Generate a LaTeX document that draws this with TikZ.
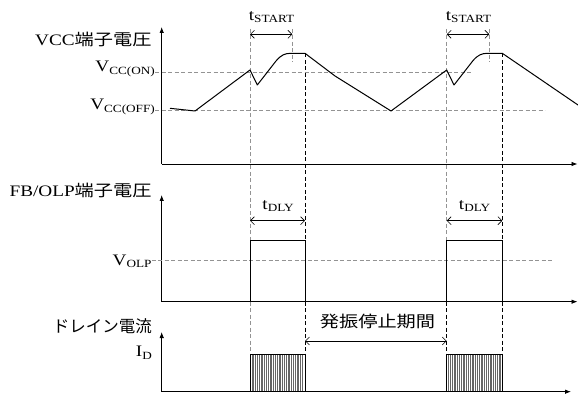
\documentclass[tikz,border=0pt]{standalone}
\usepackage{fontspec}
\setmainfont{Liberation Serif}[FakeStretch=1.2]
\newfontfamily\jpfont{Noto Sans CJK JP}[FakeStretch=1.2]
\newfontfamily\jpnarrow{Noto Sans CJK JP}
\usetikzlibrary{arrows.meta}
\newcommand\lsub[1]{\raisebox{-2.5pt}{\fontsize{11}{11}\selectfont #1}}
\newcommand\tsub[1]{\raisebox{-1.5pt}{\fontsize{11}{11}\selectfont #1}}
\begin{document}
\begin{tikzpicture}[x=1pt,y=-1pt,
  lbl/.style={font=\fontsize{16}{18}\selectfont, inner sep=0pt},
  axisline/.style={line width=0.8pt, -{Latex[length=6pt,width=4.5pt]}},
  wave/.style={line width=1pt, line join=round},
  gridline/.style={gray!85, line width=0.6pt, dash pattern=on 4pt off 2.5pt},
  darkdash/.style={black, line width=0.55pt, dash pattern=on 4pt off 2.5pt},
  dimline/.style={line width=0.6pt, {Straight Barb[length=4pt,width=8pt]}-{Straight Barb[length=4pt,width=8pt]}},
  pulse/.style={line width=1pt},
  hatch/.style={black!60, line width=0.6pt},
]
\useasboundingbox (0,0) rectangle (578,398);

% axes
\coordinate (o1) at (161.7,164);   \coordinate (y1) at (161.7,27);  \coordinate (x1) at (577.5,164);
\coordinate (o2) at (161.7,301.7); \coordinate (y2) at (161.7,195); \coordinate (x2) at (577.5,301.7);
\coordinate (o3) at (161.7,391.7); \coordinate (y3) at (161.7,332); \coordinate (x3) at (571,391.7);
\draw[axisline] (o1) -- (y1);
\draw[axisline] (o1) -- (x1);
\draw[axisline] (o2) -- (y2);
\draw[axisline] (o2) -- (x2);
\draw[axisline] (o3) -- (y3);
\draw[axisline] (o3) -- (x3);

% labels
\node[lbl, anchor=base east] (vccl) at (151.7,45.7) {VCC{\jpfont 端子電圧}};
\node[lbl, anchor=base east] (von) at (155,71.7) {V\lsub{CC(ON)}};
\node[lbl, anchor=base east] (voff) at (155,110) {V\lsub{CC(OFF)}};
\node[lbl, anchor=base east] (fbl) at (151.7,196.7) {FB/OLP{\jpfont 端子電圧}};
\node[lbl, anchor=base east] (volp) at (151.7,265) {V\lsub{OLP}};
\node[lbl, anchor=east, font=\fontsize{16.5}{18}\selectfont\jpnarrow] (idl) at (152,326.7) {ドレイン電流};
\node[lbl, anchor=base east] (idv) at (152,356.5) {I\lsub{D}};
\node[lbl, anchor=base] (ts1) at (271.5,20.7) {t\tsub{START}};
\node[lbl, anchor=base] (ts2) at (468.5,20.7) {t\tsub{START}};
\node[lbl, anchor=base] (td1) at (278,210) {t\tsub{DLY}};
\node[lbl, anchor=base] (td2) at (474.5,210) {t\tsub{DLY}};
\node[lbl, anchor=center] (stop) at (377.5,321.7) {\jpfont 発振停止期間};

% horizontal reference lines
\draw[gridline] (von.east |- 0,72.3) -- (471.7,72.3);
\draw[gridline] (voff.east |- 0,110) -- (545,110);
\draw[gridline] (volp.east |- 0,260) -- (554,260);

% vertical marker lines
\draw[gridline] (250,29) -- (250,240);
\draw[gridline] (292.3,29) -- (292.3,62);
\draw[darkdash] (305,53.3) -- (305,240);
\draw[gridline] (446.7,29) -- (446.7,240);
\draw[gridline] (489.3,29) -- (489.3,62);
\draw[darkdash] (502.3,53.3) -- (502.3,240);
\draw[gridline] (250,301.7) -- (250,354.3);
\draw[darkdash] (305,301.7) -- (305,354.3);
\draw[darkdash] (446.7,301.7) -- (446.7,354.3);
\draw[darkdash] (502.3,301.7) -- (502.3,354.3);

% VCC waveform
\draw[wave] (170,108.3) -- (195,111) -- (250,70) -- (257.3,85) -- (276,61)
  .. controls (281,55) and (285,53.3) .. (291,53.3) -- (305,53.3) -- (335,76) -- (391,111)
  -- (446.7,70) -- (454,85) -- (472.7,61)
  .. controls (477.7,55) and (481.7,53.3) .. (487.7,53.3) -- (502.3,53.3) -- (578,105);

% FB/OLP pulses
\draw[pulse] (250,301.7) -- (250,240) -- (305,240) -- (305,301.7);
\draw[pulse] (446.7,301.7) -- (446.7,240) -- (502.3,240) -- (502.3,301.7);

% drain current bursts
\foreach \x in {251.8,253.6,...,304} \draw[hatch] (\x,354.3) -- (\x,391.7);
\foreach \x in {448.5,450.3,...,501.4} \draw[hatch] (\x,354.3) -- (\x,391.7);
\draw[pulse] (250,391.7) rectangle (305,354.3);
\draw[pulse] (446.7,391.7) rectangle (502.3,354.3);

% dimension arrows
\coordinate (a1) at (250,34.3);  \coordinate (b1) at (292.3,34.3);
\coordinate (a2) at (446.7,34.3); \coordinate (b2) at (489.3,34.3);
\coordinate (a3) at (250,220.7); \coordinate (b3) at (305,220.7);
\coordinate (a4) at (446.7,220.7); \coordinate (b4) at (502.3,220.7);
\coordinate (a5) at (305,341); \coordinate (b5) at (446.7,341);
\draw[dimline] (a1) -- (b1);
\draw[dimline] (a2) -- (b2);
\draw[dimline] (a3) -- (b3);
\draw[dimline] (a4) -- (b4);
\draw[dimline] (a5) -- (b5);
\end{tikzpicture}
\end{document}
